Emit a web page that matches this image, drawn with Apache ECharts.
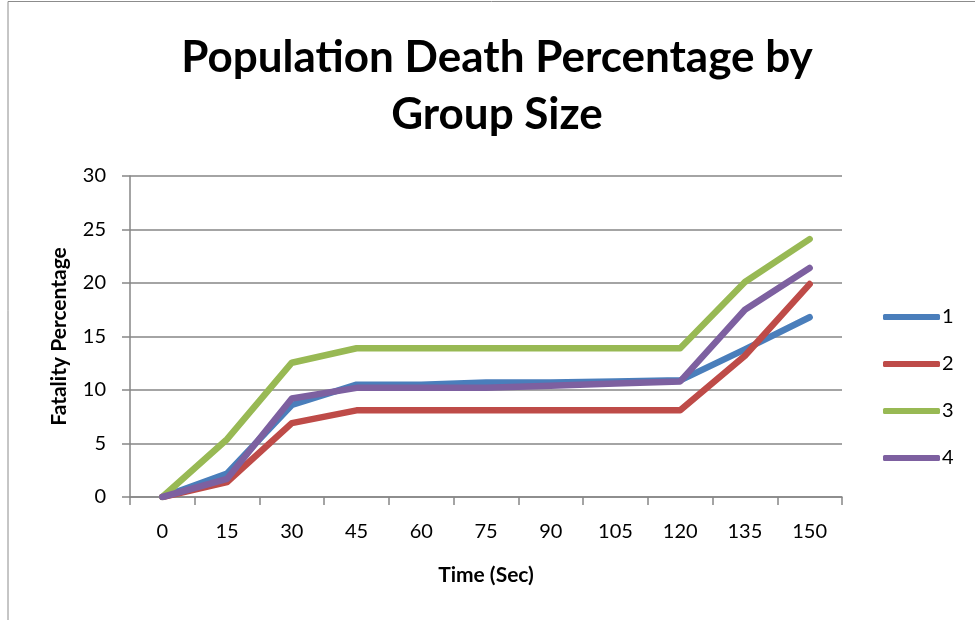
<!DOCTYPE html>
<html>
<head>
<meta charset="utf-8">
<script src="https://cdn.jsdelivr.net/npm/echarts@6/dist/echarts.min.js"></script>
<style>
  html, body { margin: 0; padding: 0; background: #fff; }
  #chart { width: 975px; height: 620px; }
</style>
</head>
<body>
<div id="chart"></div>
<script>
// time in seconds
const times = ["0", "15", "30", "45", "60", "75", "90", "105", "120", "135", "150"];
const group1 = [0, 2.2, 8.6, 10.5, 10.5, 10.7, 10.7, 10.8, 10.9, 13.8, 16.8];
const group2 = [0, 1.4, 6.9, 8.1, 8.1, 8.1, 8.1, 8.1, 8.1, 13.2, 19.9];
const group3 = [0, 5.4, 12.55, 13.9, 13.9, 13.9, 13.9, 13.9, 13.9, 20.1, 24.1];
const group4 = [0, 1.7, 9.2, 10.2, 10.2, 10.2, 10.4, 10.6, 10.8, 17.5, 21.4];
const seriesNames = ["1", "2", "3", "4"];
const colors = ["#4A7EBB", "#BE4B48", "#98B954", "#7D60A0"];

const chart = echarts.init(document.getElementById("chart"));
const font = "Lato, 'Open Sans', sans-serif";

function makeLine(name, data, color) {
  return {
    name: name,
    type: "line",
    data: data,
    symbol: "none",
    lineStyle: { width: 6.5, color: color, cap: "round", join: "round" },
    itemStyle: { color: color },
  };
}

chart.setOption({
  animation: false,
  textStyle: { fontFamily: font },
  title: {
    text: "Population Death Percentage by\nGroup Size",
    left: 492,
    textAlign: "center",
    top: 24,
    textStyle: {
      fontFamily: font,
      fontSize: 44,
      fontWeight: "bold",
      color: "#000",
      lineHeight: 57,
    },
  },
  graphic: [
    {
      type: "polyline",
      shape: { points: [[8, 620], [8, 1.5], [975, 1.5]] },
      style: { stroke: "#8c8c8c", lineWidth: 1, fill: null },
    },
  ],
  legend: {
    orient: "vertical",
    left: 878,
    top: 302,
    itemWidth: 57,
    itemHeight: 6,
    itemGap: 27,
    icon: "roundRect",
    data: seriesNames,
    textStyle: { fontFamily: font, fontSize: 20, color: "#000", padding: [0, 0, 0, -3] },
  },
  grid: { left: 130, right: 133, top: 176, bottom: 123 },
  xAxis: {
    type: "category",
    data: times,
    boundaryGap: true,
    name: "Time (Sec)",
    nameLocation: "middle",
    nameGap: 68,
    nameTextStyle: { fontFamily: font, fontSize: 21, fontWeight: "bold", color: "#000" },
    axisLine: { lineStyle: { color: "#868686", width: 1.5 } },
    axisTick: { show: true, interval: 0, length: 8, inside: false, lineStyle: { color: "#868686", width: 1.5 } },
    axisLabel: { interval: 0, fontSize: 20, color: "#000", margin: 25 },
    splitLine: { show: false },
  },
  yAxis: {
    type: "value",
    min: 0,
    max: 30,
    interval: 5,
    name: "Fatality Percentage",
    nameLocation: "middle",
    nameGap: 60,
    nameRotate: 90,
    nameTextStyle: { fontFamily: font, fontSize: 21, fontWeight: "bold", color: "#000" },
    axisLine: { show: true, lineStyle: { color: "#868686", width: 1.5 } },
    axisTick: { show: true, length: 8, lineStyle: { color: "#868686", width: 1.5 } },
    axisLabel: { fontSize: 20, color: "#000", margin: 24 },
    splitLine: { show: true, lineStyle: { color: "#868686", width: 1.5 } },
  },
  series: [
    makeLine(seriesNames[0], group1, colors[0]),
    makeLine(seriesNames[1], group2, colors[1]),
    makeLine(seriesNames[2], group3, colors[2]),
    makeLine(seriesNames[3], group4, colors[3]),
  ],
});
</script>
</body>
</html>
